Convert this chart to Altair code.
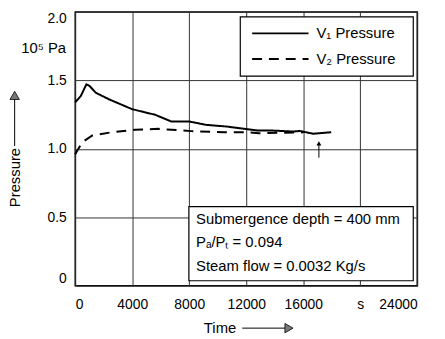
import altair as alt
import pandas as pd

FONT = "Liberation Sans"

# --- data ---
v1_time = [0, 395, 785, 1017, 1433, 2358, 3975, 4903, 5597, 6750, 8025, 9176, 10681, 12762, 13685, 15300, 15765, 16695, 17964]
v1_pres = [1.34, 1.386, 1.471, 1.458, 1.41, 1.362, 1.29, 1.266, 1.249, 1.199, 1.199, 1.175, 1.162, 1.134, 1.134, 1.126, 1.13, 1.11, 1.121]
v2_time = [0, 160, 506, 1200, 2587, 4210, 5826, 8136, 10450, 12069, 12900, 16000]
v2_pres = [0.96, 0.989, 1.049, 1.097, 1.121, 1.139, 1.146, 1.129, 1.121, 1.121, 1.114, 1.12]
series_names = ["V\u2081 Pressure", "V\u2082 Pressure"]

info_lines = ["Submergence depth = 400 mm", "P\u2090/P\u209c = 0.094", "Steam flow = 0.0032 Kg/s"]
info_y = [0.484, 0.318, 0.144]

x_ticks = [0, 4000, 8000, 12000, 16000, 20000, 24000]
y_ticks = [0, 0.5, 1.0, 1.5, 2.0]

df = pd.concat([
    pd.DataFrame({"t": v1_time, "p": v1_pres, "s": series_names[0]}),
    pd.DataFrame({"t": v2_time, "p": v2_pres, "s": series_names[1]}),
])

xs = alt.Scale(domain=[0, 24000], nice=False)
ys = alt.Scale(domain=[0, 2], nice=False)
dash_scale = alt.Scale(domain=series_names, range=[[1, 0], [10, 7]])

axis_common = dict(title=None, grid=True, ticks=False, domain=False,
                   gridColor="#333333", gridWidth=1, gridOpacity=1,
                   labelFont=FONT, labelFontSize=14, labelColor="black")

lines = alt.Chart(df).mark_line(color="black", strokeWidth=2).encode(
    x=alt.X("t:Q", scale=xs, axis=alt.Axis(
        values=x_ticks, format="d",
        labelExpr="datum.value == 20000 ? 's' : datum.label",
        labelPadding=12, **axis_common)),
    y=alt.Y("p:Q", scale=ys, axis=alt.Axis(
        values=y_ticks,
        labelExpr="datum.value == 0 ? '0' : format(datum.value, '.1f')",
        labelFlush=True, labelPadding=9, **axis_common)),
    strokeDash=alt.StrokeDash("s:N", scale=dash_scale, legend=None),
)

# boxes: legend box and info box
boxes = alt.Chart(pd.DataFrame({"x1": [11583, 7977], "x2": [23722, 23722],
                                "y1": [1.531, 0.036], "y2": [1.964, 0.578]})).mark_rect(
    fill="white", stroke="black", strokeWidth=1.2).encode(
    x=alt.X("x1:Q", scale=xs), x2="x2:Q", y=alt.Y("y1:Q", scale=ys), y2="y2:Q")

# legend samples
leg = pd.DataFrame({"x1": [12416, 12416], "x2": [16370, 16370], "y": [1.843, 1.656],
                    "s": series_names, "tx": [16925, 16925]})
leg_lines = alt.Chart(leg).mark_rule(color="black", strokeWidth=2).encode(
    x=alt.X("x1:Q", scale=xs), x2="x2:Q", y=alt.Y("y:Q", scale=ys),
    strokeDash=alt.StrokeDash("s:N", scale=dash_scale, legend=None))
leg_text = alt.Chart(leg).mark_text(align="left", baseline="middle", font=FONT, fontSize=15,
                                    color="black").encode(
    x=alt.X("tx:Q", scale=xs), y=alt.Y("y:Q", scale=ys), text="s:N")

info = alt.Chart(pd.DataFrame({"txt": info_lines, "y": info_y, "x": [8483] * 3})).mark_text(
    align="left", baseline="middle", font=FONT, fontSize=15, color="black").encode(
    x=alt.X("x:Q", scale=xs), y=alt.Y("y:Q", scale=ys), text="txt:N")

# labels outside the plot (data coordinates)
lab = pd.DataFrame({"x": [-645, 11300], "y": [1.733, -0.31], "txt": ["10\u2075 Pa", "Time"]})
labels = alt.Chart(lab).mark_text(align="right", baseline="middle", font=FONT, fontSize=15,
                                  color="black").encode(
    x=alt.X("x:Q", scale=xs), y=alt.Y("y:Q", scale=ys), text="txt:N")

ptitle = alt.Chart(pd.DataFrame({"x": [-4200], "y": [0.79], "txt": ["Pressure"]})).mark_text(
    angle=270, align="center", baseline="middle", font=FONT, fontSize=15, color="black").encode(
    x=alt.X("x:Q", scale=xs), y=alt.Y("y:Q", scale=ys), text="txt:N")

# arrows: shaft + head
shafts = pd.DataFrame({"x1": [11722, -4250, 17100], "x2": [14900, -4250, 17100],
                       "y1": [-0.31, 1.02, 0.935], "y2": [-0.31, 1.38, 1.04]})
shaft = alt.Chart(shafts).mark_rule(color="black", strokeWidth=1).encode(
    x=alt.X("x1:Q", scale=xs), x2="x2:Q", y=alt.Y("y1:Q", scale=ys), y2="y2:Q")
heads = pd.DataFrame({"x": [15000, -4250], "y": [-0.31, 1.39], "sh": ["triangle-right", "triangle-up"]})
head = alt.Chart(heads).mark_point(filled=True, color="#777777", stroke="black", strokeWidth=0.8,
                                   size=90, opacity=1).encode(
    x=alt.X("x:Q", scale=xs), y=alt.Y("y:Q", scale=ys),
    shape=alt.Shape("sh:N", scale=None))
small_head = alt.Chart(pd.DataFrame({"x": [17100], "y": [1.04]})).mark_point(
    filled=True, color="black", shape="triangle-up", size=25, opacity=1).encode(
    x=alt.X("x:Q", scale=xs), y=alt.Y("y:Q", scale=ys))

chart = alt.layer(boxes, info, lines, leg_lines, leg_text, labels, ptitle, shaft, head,
                  small_head).properties(
    width=346, height=277, autosize=alt.AutoSizeParams(type="none"),
    padding={"left": 68, "top": 2, "right": 20, "bottom": 52},
    background="white",
).configure_view(stroke="black", strokeWidth=1.5)

chart.save("out.html", embed_options={"renderer": "svg", "actions": False})
